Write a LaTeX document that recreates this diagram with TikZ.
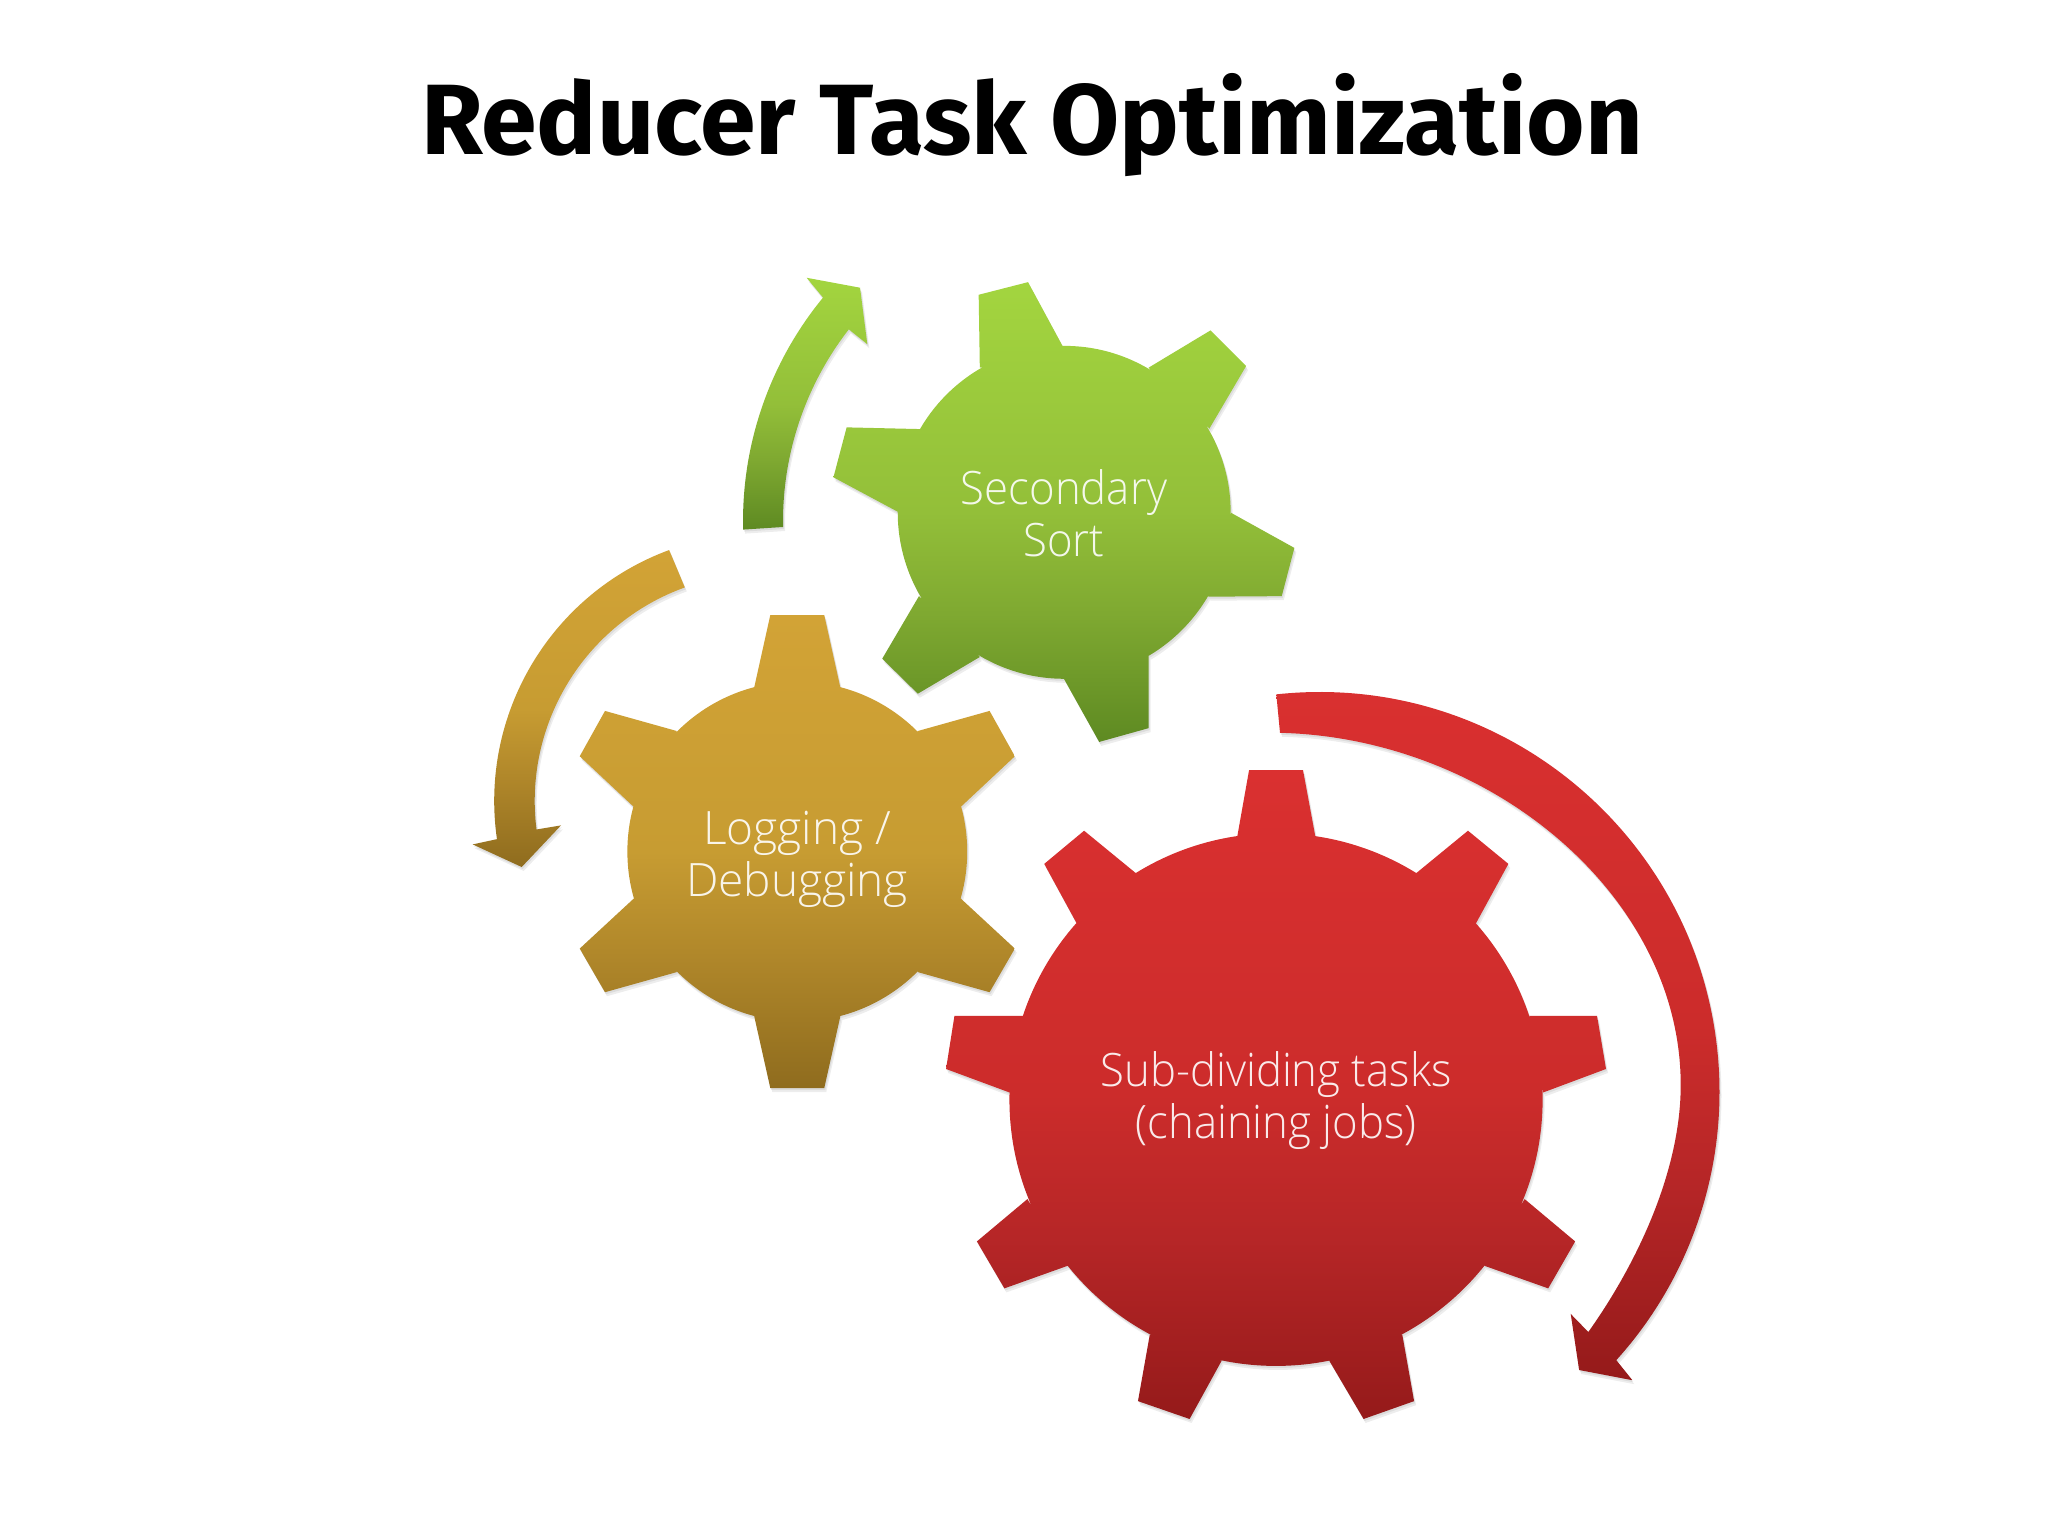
\documentclass[tikz,border=0pt]{standalone}
\usepackage{fontspec}
\setmainfont{Fira Sans}
\newfontfamily\thinfont{Open Sans Light}
\definecolor{goldT}{HTML}{D2A336}
\definecolor{goldM}{HTML}{C79C32}
\definecolor{goldN}{HTML}{B0872A}
\definecolor{goldB}{HTML}{8F6C1E}
\definecolor{greenT}{HTML}{A3D53F}
\definecolor{greenM}{HTML}{93BF39}
\definecolor{greenN}{HTML}{7FA931}
\definecolor{greenB}{HTML}{5E8A22}
\definecolor{redT}{HTML}{DA3030}
\definecolor{redM}{HTML}{CC2C2B}
\definecolor{redN}{HTML}{B62627}
\definecolor{redB}{HTML}{951A1A}
\pgfdeclareverticalshading{goldshade}{100bp}{color(0bp)=(goldB);color(25bp)=(goldB);color(39bp)=(goldN);color(50bp)=(goldM);color(75bp)=(goldT);color(100bp)=(goldT)}
\pgfdeclareverticalshading{greenshade}{100bp}{color(0bp)=(greenB);color(25bp)=(greenB);color(39bp)=(greenN);color(50bp)=(greenM);color(75bp)=(greenT);color(100bp)=(greenT)}
\pgfdeclareverticalshading{redshade}{100bp}{color(0bp)=(redB);color(25bp)=(redB);color(39bp)=(redN);color(50bp)=(redM);color(75bp)=(redT);color(100bp)=(redT)}
\newcommand{\goldgear}{(605,1048) circle[radius=296]
 (530,762)--(558,636)--(652,636)--(680,762)--cycle
 (815,838)--(940,803)--(984,882)--(890,970)--cycle
 (890,1130)--(984,1217)--(940,1293)--(815,1258)--cycle
 (680,1335)--(652,1460)--(558,1460)--(530,1335)--cycle
 (395,1258)--(270,1293)--(226,1217)--(320,1130)--cycle
 (320,970)--(226,882)--(270,803)--(395,838)--cycle}
\newcommand{\greengear}{(1070,457) circle[radius=290]
 (923,205)--(921,78)--(1007,56)--(1067,167)--cycle
 (1217,205)--(1325,140)--(1387,202)--(1323,311)--cycle
 (1361,458)--(1471,519)--(1449,603)--(1321,604)--cycle
 (1217,707)--(1217,833)--(1131,857)--(1069,746)--cycle
 (923,709)--(815,773)--(753,712)--(817,603)--cycle
 (780,456)--(668,396)--(691,309)--(820,312)--cycle}
\newcommand{\redgear}{(670,842) ellipse[x radius=475,y radius=522]
 (601,326)--(622,196)--(718,196)--(740,326)--cycle
 (920,398)--(1012,315)--(1084,380)--(1026,497)--cycle
 (1122,678)--(1242,678)--(1258,782)--(1146,828)--cycle
 (1113,1037)--(1203,1120)--(1155,1212)--(1042,1168)--cycle
 (895,1303)--(916,1433)--(826,1468)--(765,1354)--cycle
 (573,1354)--(516,1468)--(424,1433)--(445,1303)--cycle
 (298,1168)--(186,1212)--(137,1120)--(227,1037)--cycle
 (195,828)--(82,782)--(97,678)--(220,678)--cycle
 (315,497)--(257,380)--(328,315)--(420,398)--cycle}
\newcommand{\redarrow}{({1319.5+400*cos(-96.2)},{1092+400*sin(-96.2)})
 arc[start angle=-96.2,end angle=42.1,radius=400]
 --(1632.4,1380.2)--(1579.1,1370)--(1570.7,1313.9)--(1588.3,1332)
 .. controls (1638,1262) and (1680.7,1170) .. (1680.7,1085)
 .. controls (1680.7,895) and (1490,738) .. (1280,732.8)--cycle}
\newcommand{\goldarrow}{({761.7+267.5*cos(-110.25)},{801+267.5*sin(-110.25)})
 arc[start angle=-110.25,end angle=-188.2,radius=267.5]
 --(472.7,844.4)--(521.7,867)--(561,825.4)
 --({761.7+227*cos(-187.2)},{801+227*sin(-187.2)})
 arc[start angle=-187.2,end angle=-109.8,radius=227]--cycle}
\newcommand{\greenarrow}{({1095+352*cos(178.6)},{521+352*sin(178.6)})
 arc[start angle=178.6,end angle=219.4,radius=352]
 --(806.7,277.8)--(860,287.7)--(867.3,344.2)
 --({1095+312*cos(217.9)},{521+312*sin(217.9)})
 arc[start angle=217.9,end angle=178.9,radius=312]--cycle}
\newcommand{\narrow}[1]{\scalebox{0.95}[1]{#1}}
\tikzset{
  softshadow/.style={fill=black,opacity=0.07},
  goldfill/.style={shade,shading=goldshade},
  greenfill/.style={shade,shading=greenshade},
  redfill/.style={shade,shading=redshade},
  geartext/.style={font=\thinfont\fontsize{23}{26}\selectfont,text=white,text opacity=0.9,align=center,inner sep=0pt,anchor=center},
  zoomA/.style={shift={(450,250)},x=0.28700pt,y=-0.28700pt},
  zoomB/.style={shift={(900,670)},x=0.28061pt,y=-0.25510pt}
}
\begin{document}
\begin{tikzpicture}[x=0.5pt,y=-0.5pt]
\useasboundingbox (0,0) rectangle (2048,1536);
\fill[white] (0,0) rectangle (2048,1536);
% shadows
\foreach \d in {2,4}{
  \begin{scope}[shift={(0.5*\d,\d)}]
    \begin{scope}[zoomA]
      \fill[softshadow] \goldgear;
      \fill[softshadow] \greengear;
    \end{scope}
    \begin{scope}[zoomB]
      \fill[softshadow] \redgear;
    \end{scope}
    \fill[softshadow] \redarrow;
    \fill[softshadow] \goldarrow;
    \fill[softshadow] \greenarrow;
  \end{scope}
}
% arrows
\path[redfill] \redarrow;
\path[goldfill] \goldarrow;
\path[greenfill] \greenarrow;
% gears
\begin{scope}[zoomA]
  \path[greenfill] \greengear;
  \path[goldfill] \goldgear;
\end{scope}
\begin{scope}[zoomB]
  \path[redfill] \redgear;
\end{scope}
% text
\node[anchor=base,inner sep=0pt,font=\bfseries\fontsize{50}{52}\selectfont] (title) at (1032,154) {\resizebox{611pt}{\height}{Reducer Task Optimization}};
\node[geartext] (secondary) at (1064,513) {\narrow{Secondary}\\\narrow{Sort}};
\node[geartext] (logging) at (797,859) {Logging /\\Debugging};
\node[geartext] (subdiv) at (1276,1101) {\narrow{Sub-dividing tasks}\\\narrow{(chaining jobs)}};
\end{tikzpicture}
\end{document}
